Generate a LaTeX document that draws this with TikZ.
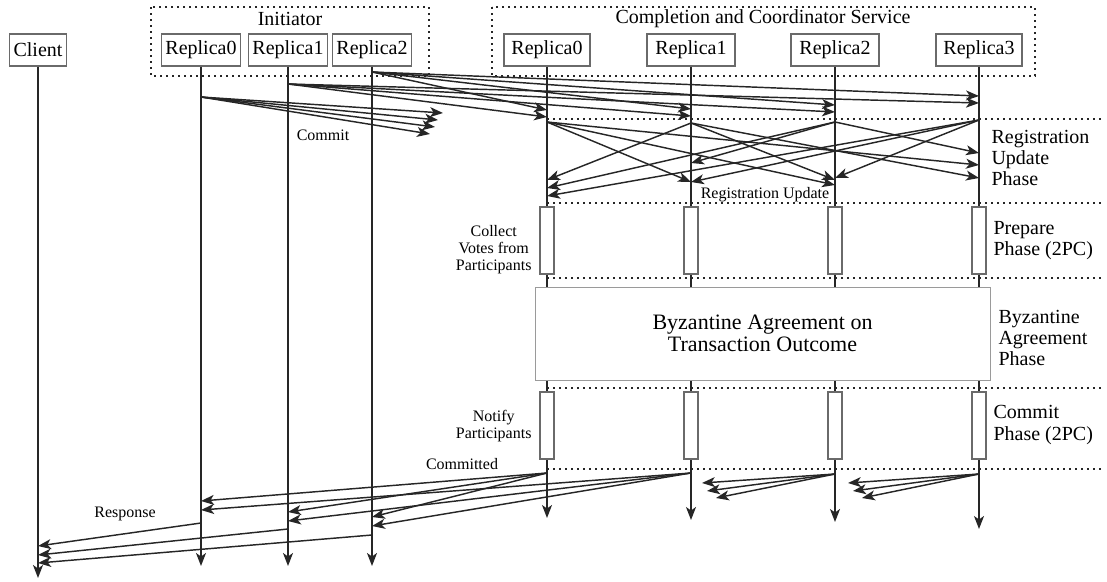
\documentclass[tikz,border=0pt]{standalone}
\usepackage{fontspec}
\setmainfont{Liberation Serif}
\usetikzlibrary{arrows.meta}

\definecolor{trait}{HTML}{262626}
\definecolor{cadre}{HTML}{6A6A6A}
\definecolor{cadreclair}{HTML}{9A9A9A}

\tikzset{
  replique/.style={draw=cadre, line width=1.2pt, fill=white, minimum height=32pt, inner xsep=4pt, font=\fontsize{20}{21}\selectfont},
  groupe/.style={draw=trait, line width=1.6pt, dash pattern=on 1.6pt off 4.4pt},
  phase/.style={draw=trait, line width=1.5pt, dash pattern=on 1.5pt off 4.5pt},
  vie/.style={draw=trait, line width=1.5pt, -{Stealth[length=13pt,width=10pt,inset=3.5pt]}},
  msg/.style={draw=trait, line width=1.45pt, -{Stealth[length=13pt,width=10pt,inset=3.5pt]}},
  activ/.style={draw=cadre, line width=1.3pt, fill=white, inner sep=0pt, minimum width=14pt, minimum height=67pt},
  petit/.style={font=\fontsize{16}{17}\selectfont, align=center},
  titre/.style={font=\fontsize{20}{21}\selectfont, align=left, anchor=west},
}

\begin{document}
\begin{tikzpicture}[x=1pt, y=-1pt]

      \useasboundingbox (0,0) rectangle (1107,581);

      % groupes de repliques
      \draw[groupe] (151,7) rectangle (429,76);
      \draw[groupe] (492,7) rectangle (1035,76);
      \node[font=\fontsize{20}{21}\selectfont] (tinit) at (290,19) {Initiator};
      \node[font=\fontsize{20}{21}\selectfont] (tcoord) at (763,19) {Completion and Coordinator Service};

      % processus
      \node[replique] (client) at (38,50) {Client};
      \node[replique] (i0) at (201,50) {Replica0};
      \node[replique] (i1) at (288,50) {Replica1};
      \node[replique] (i2) at (372,50) {Replica2};
      \node[replique, minimum width=86pt] (c0) at (547,50) {Replica0};
      \node[replique, minimum width=88pt] (c1) at (691,50) {Replica1};
      \node[replique, minimum width=88pt] (c2) at (835,50) {Replica2};
      \node[replique, minimum width=86pt] (c3) at (979,50) {Replica3};

      % separations des phases
      \coordinate (p1a) at (547,119);
      \coordinate (p1b) at (1104,119);
      \coordinate (p2a) at (547,203);
      \coordinate (p2b) at (1104,203);
      \coordinate (p3a) at (547,278);
      \coordinate (p3b) at (1104,278);
      \coordinate (p4a) at (547,388);
      \coordinate (p4b) at (1104,388);
      \coordinate (p5a) at (547,469);
      \coordinate (p5b) at (1104,469);
      \draw[phase] (p1a) -- (p1b);
      \draw[phase] (p2a) -- (p2b);
      \draw[phase] (p3a) -- (p3b);
      \draw[phase] (p4a) -- (p4b);
      \draw[phase] (p5a) -- (p5b);

      % lignes de vie
      \coordinate (clientfin) at (38,578);
      \coordinate (i0fin) at (201,566);
      \coordinate (i1fin) at (288,566);
      \coordinate (i2fin) at (372,566);
      \coordinate (c0fin) at (547,518);
      \coordinate (c1fin) at (691,520);
      \coordinate (c2fin) at (835,522);
      \coordinate (c3fin) at (979,529);
      \draw[vie] (client) -- (clientfin);
      \draw[vie] (i0) -- (i0fin);
      \draw[vie] (i1) -- (i1fin);
      \draw[vie] (i2) -- (i2fin);
      \draw[vie] (c0) -- (c0fin);
      \draw[vie] (c1) -- (c1fin);
      \draw[vie] (c2) -- (c2fin);
      \draw[vie] (c3) -- (c3fin);

      % phase prepare et phase commit (2PC)
      \node[activ] (prep0) at (547,240.5) {};
      \node[activ] (prep1) at (691,240.5) {};
      \node[activ] (prep2) at (835,240.5) {};
      \node[activ] (prep3) at (979,240.5) {};
      \node[activ] (com0) at (547,425.5) {};
      \node[activ] (com1) at (691,425.5) {};
      \node[activ] (com2) at (835,425.5) {};
      \node[activ] (com3) at (979,425.5) {};

      % accord byzantin
      \node[draw=cadreclair, line width=1pt, fill=white, minimum width=455pt, minimum height=93pt, align=center, font=\fontsize{22}{22}\selectfont] (byz) at (762.5,333.5) {Byzantine Agreement on\\Transaction Outcome};

      % envoi du commit par l'initiateur
      \coordinate (i0s) at (201,97);
      \coordinate (i1s) at (288,84);
      \coordinate (i2s) at (372,72);
      \coordinate (k1) at (443,113);
      \coordinate (k2) at (438,120);
      \coordinate (k3) at (435,127);
      \coordinate (k4) at (430,134);
      \draw[msg] (i0s) -- (k1);
      \draw[msg] (i0s) -- (k2);
      \draw[msg] (i0s) -- (k3);
      \draw[msg] (i0s) -- (k4);
      \coordinate (c0a) at (547,110);
      \coordinate (c0b) at (547,117);
      \coordinate (c1a) at (691,109);
      \coordinate (c1b) at (691,116);
      \coordinate (c2a) at (835,105);
      \coordinate (c2b) at (835,112);
      \coordinate (c3a) at (979,96);
      \coordinate (c3b) at (979,103);
      \draw[msg] (i2s) -- (c0a);
      \draw[msg] (i2s) -- (c1a);
      \draw[msg] (i2s) -- (c2a);
      \draw[msg] (i2s) -- (c3a);
      \draw[msg] (i1s) -- (c0b);
      \draw[msg] (i1s) -- (c1b);
      \draw[msg] (i1s) -- (c2b);
      \draw[msg] (i1s) -- (c3b);

      % mise a jour de l'enregistrement
      \coordinate (c0u) at (547,122);
      \coordinate (c1u) at (691,123);
      \coordinate (c2u) at (835,122);
      \coordinate (c3u) at (979,120);
      \coordinate (c0r1) at (547,180);
      \coordinate (c0r2) at (547,188);
      \coordinate (c0r3) at (547,196);
      \coordinate (c1r0) at (691,182);
      \coordinate (c1r2) at (691,163);
      \coordinate (c1r3) at (691,182);
      \coordinate (c2r0) at (835,185);
      \coordinate (c2r1) at (835,180);
      \coordinate (c2r3) at (835,178);
      \coordinate (c3r0) at (979,165);
      \coordinate (c3r1) at (979,178);
      \coordinate (c3r2) at (979,153);
      \draw[msg] (c0u) -- (c1r0);
      \draw[msg] (c0u) -- (c2r0);
      \draw[msg] (c0u) -- (c3r0);
      \draw[msg] (c1u) -- (c0r1);
      \draw[msg] (c1u) -- (c2r1);
      \draw[msg] (c1u) -- (c3r1);
      \draw[msg] (c2u) -- (c0r2);
      \draw[msg] (c2u) -- (c1r2);
      \draw[msg] (c2u) -- (c3r2);
      \draw[msg] (c3u) -- (c0r3);
      \draw[msg] (c3u) -- (c1r3);
      \draw[msg] (c3u) -- (c2r3);

      % notification du resultat
      \coordinate (c0f) at (547,473);
      \coordinate (c1f) at (691,473);
      \coordinate (c2f) at (835,474);
      \coordinate (c3f) at (979,474);
      \coordinate (i0a) at (201,501);
      \coordinate (i0b) at (201,510);
      \coordinate (i1a) at (288,512);
      \coordinate (i1b) at (288,521);
      \coordinate (i2a) at (372,517);
      \coordinate (i2b) at (372,526);
      \draw[msg] (c0f) -- (i0a);
      \draw[msg] (c0f) -- (i1a);
      \draw[msg] (c0f) -- (i2a);
      \draw[msg] (c1f) -- (i0b);
      \draw[msg] (c1f) -- (i1b);
      \draw[msg] (c1f) -- (i2b);
      \coordinate (m1) at (702,483);
      \coordinate (m2) at (707,491);
      \coordinate (m3) at (716,498);
      \coordinate (n1) at (848,483);
      \coordinate (n2) at (853,491);
      \coordinate (n3) at (862,498);
      \draw[msg] (c2f) -- (m1);
      \draw[msg] (c2f) -- (m2);
      \draw[msg] (c2f) -- (m3);
      \draw[msg] (c3f) -- (n1);
      \draw[msg] (c3f) -- (n2);
      \draw[msg] (c3f) -- (n3);

      % reponse au client
      \coordinate (i0r) at (201,523);
      \coordinate (i1r) at (288,529);
      \coordinate (i2r) at (372,535);
      \coordinate (cl1) at (38,546);
      \coordinate (cl2) at (38,555);
      \coordinate (cl3) at (38,563);
      \draw[msg] (i0r) -- (cl1);
      \draw[msg] (i1r) -- (cl2);
      \draw[msg] (i2r) -- (cl3);

      % etiquettes des messages
      \node[petit] (lcommit) at (323,135) {Commit};
      \node[petit] (lreg) at (765,195) {Registration Update};
      \node[petit, anchor=east] (lcollect) at (535,250) {Collect\\Votes from\\Participants};
      \node[petit, anchor=east] (lnotify) at (535,426) {Notify\\Participants};
      \node[petit] (lcommitted) at (462,464) {Committed};
      \node[petit] (lresponse) at (125,514) {Response};

      % noms des phases
      \node[titre] (phreg) at (988,158) {Registration\\Update\\Phase};
      \node[titre] (phprep) at (990,241) {Prepare\\Phase (2PC)};
      \node[titre] (phbyz) at (995,338) {Byzantine\\Agreement\\Phase};
      \node[titre] (phcom) at (990,425) {Commit\\Phase (2PC)};
    \end{tikzpicture}
\end{document}
